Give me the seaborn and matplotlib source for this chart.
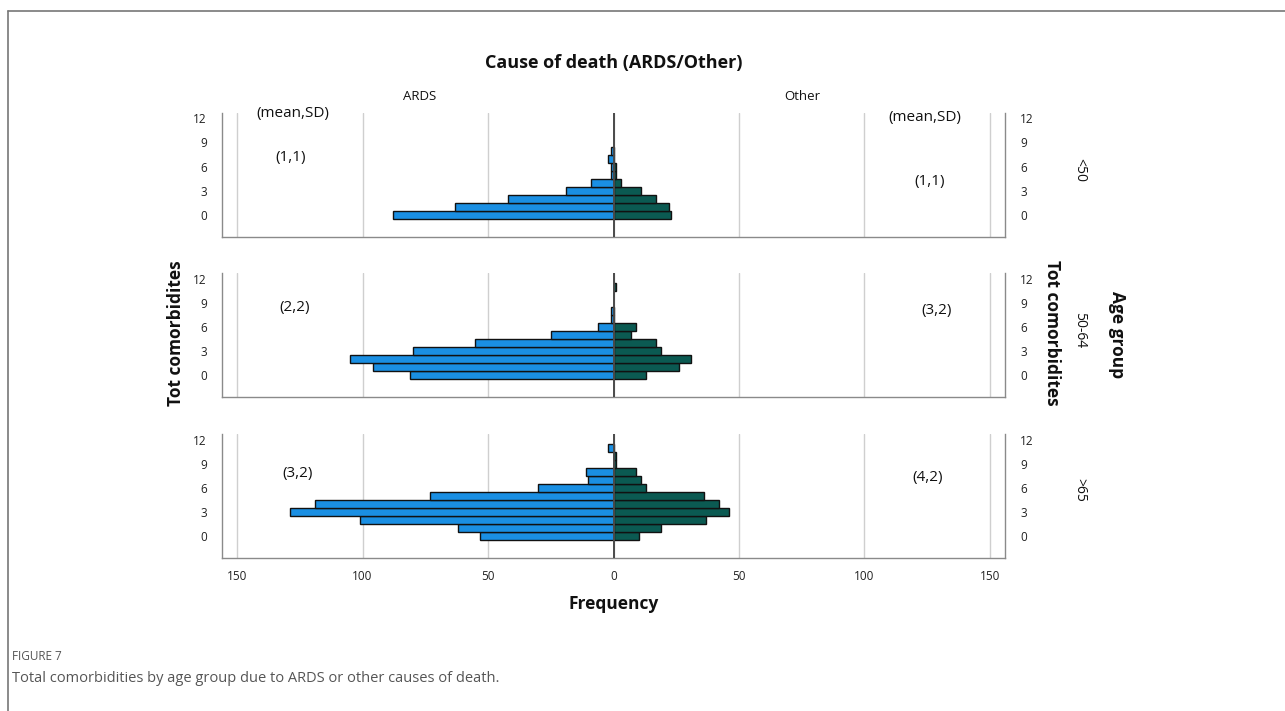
import numpy as np
import pandas as pd
import matplotlib
matplotlib.use("Agg")
import matplotlib.pyplot as plt
from matplotlib.lines import Line2D
import seaborn as sns

# ---------------- data ----------------
comorbidities = list(range(13))  # 0..12
age_groups = ["<50", "50-64", ">65"]

ards_lt50 = [88, 63, 42, 19, 9, 1, 1, 2, 1, 0, 0, 0, 0]
other_lt50 = [23, 22, 17, 11, 3, 1, 1, 0, 0, 0, 0, 0, 0]

ards_50_64 = [81, 96, 105, 80, 55, 25, 6, 1, 1, 0, 0, 0, 0]
other_50_64 = [13, 26, 31, 19, 17, 7, 9, 0, 0, 0, 0, 1, 0]

ards_gt65 = [53, 62, 101, 129, 119, 73, 30, 10, 11, 0, 0, 2, 0]
other_gt65 = [10, 19, 37, 46, 42, 36, 13, 11, 9, 1, 1, 0, 0]

mean_sd_ards = ["(1,1)", "(2,2)", "(3,2)"]
mean_sd_other = ["(1,1)", "(3,2)", "(4,2)"]

x_ticks = [-150, -100, -50, 0, 50, 100, 150]
y_ticks = [0, 3, 6, 9, 12]

ARDS_COLOR = "#1a8fe3"
OTHER_COLOR = "#0b5a52"
EDGE = "#111111"

sns.set_theme(style="white")
plt.rcParams["font.family"] = ["Open Sans", "DejaVu Sans"]

W, H = 1285, 711
fig = plt.figure(figsize=(W / 100, H / 100), dpi=100)


def fx(px):
    return px / W


def fy(py):
    return 1 - py / H


panels_px = [(112.7, 236.7), (273.0, 397.0), (434.0, 558.0)]
left_px, right_px = 222, 1005

data = [
    (ards_lt50, other_lt50),
    (ards_50_64, other_50_64),
    (ards_gt65, other_gt65),
]

axes = []
for i, ((top, bot), (ards, other)) in enumerate(zip(panels_px, data)):
    ax = fig.add_axes([fx(left_px), fy(bot), fx(right_px) - fx(left_px), (bot - top) / H])
    axes.append(ax)
    df = pd.DataFrame({
        "v": comorbidities * 2,
        "count": [-a for a in ards] + list(other),
        "cause": ["ARDS"] * 13 + ["Other"] * 13,
    })
    df = df[df["count"] != 0]
    for cause, col in [("ARDS", ARDS_COLOR), ("Other", OTHER_COLOR)]:
        sub = df[df["cause"] == cause]
        sns.barplot(data=sub, x="count", y="v", orient="h", native_scale=True,
                    width=1.0, color=col, edgecolor=EDGE, linewidth=1.0,
                    errorbar=None, saturation=1, ax=ax)
    ax.set_xlim(-156, 156)
    ax.set_ylim(-2.7, 12.7)
    ax.set_xticks(x_ticks)
    ax.set_yticks(y_ticks)
    ax.set_yticklabels([str(t) for t in y_ticks], fontsize=8.5, color="#222")
    ax.grid(axis="x", color="#cfcfcf", linewidth=1.0)
    ax.grid(axis="y", visible=False)
    ax.set_axisbelow(True)
    ax.axvline(0, color="#4a4a4a", linewidth=1.4, zorder=5)
    ax.tick_params(axis="y", left=False, right=False, labelleft=True, labelright=True, pad=5)
    ax.tick_params(axis="x", bottom=False, top=False)
    if i == 2:
        ax.set_xticklabels([str(abs(t)) for t in x_ticks], fontsize=8.5, color="#222")
        ax.tick_params(axis="x", pad=3)
    else:
        ax.set_xticklabels([])
    ax.set_xlabel("")
    ax.set_ylabel("")
    for s in ["left", "right", "bottom"]:
        ax.spines[s].set_visible(True)
        ax.spines[s].set_color("#8a8a8a")
        ax.spines[s].set_linewidth(1.0)
    ax.spines["top"].set_visible(False)

# texts
fig.text(fx(614), fy(63), "Cause of death (ARDS/Other)", ha="center", va="center",
         fontsize=13, fontweight="bold", color="#111")
fig.text(fx(420), fy(97), "ARDS", ha="center", va="center", fontsize=9.5, color="#111")
fig.text(fx(802), fy(97), "Other", ha="center", va="center", fontsize=9.5, color="#111")
fig.text(fx(293), fy(113), "(mean,SD)", ha="center", va="center", fontsize=11, color="#111")
fig.text(fx(925), fy(118), "(mean,SD)", ha="center", va="center", fontsize=11, color="#111")

left_ann_y = [157, 308, 473]
right_ann_y = [182, 310, 478]
left_ann_x = [291, 295, 298]
right_ann_x = [930, 937, 928]
for k in range(3):
    fig.text(fx(left_ann_x[k]), fy(left_ann_y[k]), mean_sd_ards[k], ha="center", va="center",
             fontsize=11, color="#111")
    fig.text(fx(right_ann_x[k]), fy(right_ann_y[k]), mean_sd_other[k], ha="center", va="center",
             fontsize=11, color="#111")

row_label_y = [170, 330, 490]
for k, lab in enumerate(age_groups):
    fig.text(fx(1080), fy(row_label_y[k]), lab, ha="center", va="center", rotation=270,
             fontsize=10, color="#111")

fig.text(fx(176), fy(333), "Tot comorbidites", ha="center", va="center", rotation=90,
         fontsize=12.5, fontweight="bold", color="#111")
fig.text(fx(1052), fy(333), "Tot comorbidites", ha="center", va="center", rotation=270,
         fontsize=12.5, fontweight="bold", color="#111")
fig.text(fx(1117), fy(335), "Age group", ha="center", va="center", rotation=270,
         fontsize=12.5, fontweight="bold", color="#111")
fig.text(fx(614), fy(604), "Frequency", ha="center", va="center",
         fontsize=12.5, fontweight="bold", color="#111")

fig.text(fx(12), fy(656), "FIGURE 7", ha="left", va="center", fontsize=8.5, color="#555")
fig.text(fx(12), fy(679), "Total comorbidities by age group due to ARDS or other causes of death.",
         ha="left", va="center", fontsize=10.5, color="#555")

# outer frame lines
fig.add_artist(Line2D([fx(8), fx(8)], [fy(11), fy(711)], color="#777", linewidth=1.2))
fig.add_artist(Line2D([fx(8), fx(1285)], [fy(11), fy(11)], color="#777", linewidth=1.2))

fig.savefig("out.png", dpi=100)
